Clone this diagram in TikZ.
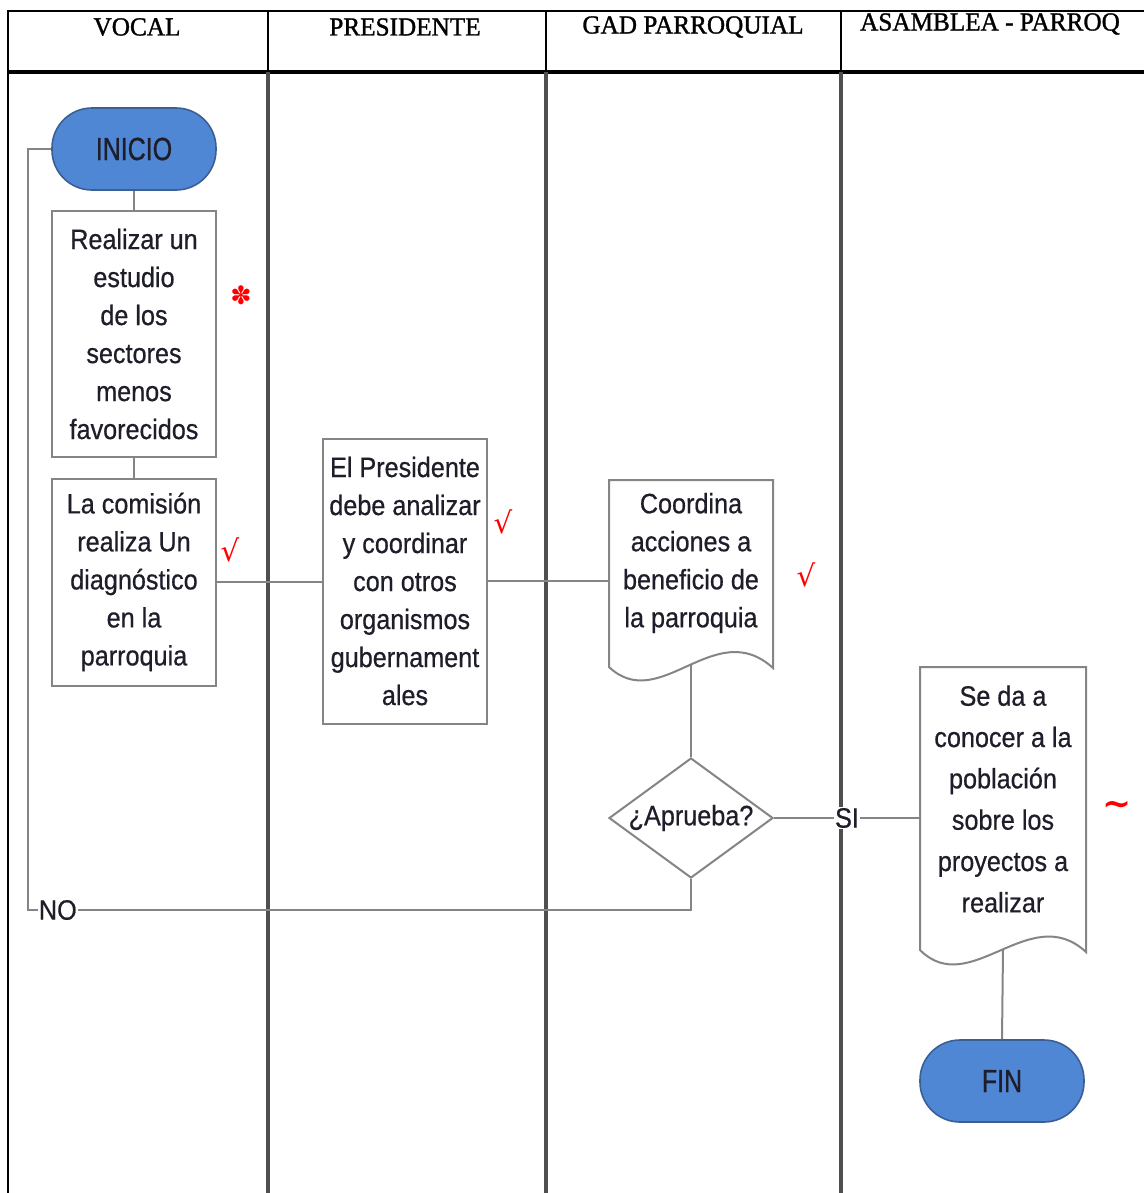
\documentclass[tikz,border=0pt]{standalone}
\usepackage{fontspec}
\setmainfont{Liberation Serif}[FakeBold=1.2, FakeStretch=0.97]
\newfontfamily\bodyfont[FakeStretch=0.9, FakeBold=0.6]{Liberation Sans}
\newfontfamily\termfont[FakeStretch=0.78, FakeBold=0.8]{Liberation Sans}
\newfontfamily\markfont{DejaVu Serif}
\newfontfamily\starfont{DejaVu Sans}
\usetikzlibrary{shapes.geometric}
\definecolor{laneline}{HTML}{4F4F4F}
\definecolor{linkgray}{HTML}{858585}
\definecolor{termblue}{HTML}{4F87D4}
\definecolor{termedge}{HTML}{3B5E93}
\definecolor{inkdark}{HTML}{1E1E2A}
\definecolor{markred}{HTML}{FF0000}

\begin{document}
\begin{tikzpicture}[x=0.75pt, y=-0.75pt,
  lanehead/.style={font=\fontsize{19.5pt}{22pt}\selectfont, text=black, inner sep=0pt},
  frame/.style={draw=black, line width=1.6pt},
  lane/.style={draw=laneline, line width=2.4pt},
  link/.style={draw=linkgray, line width=1.5pt},
  body/.style={text=inkdark, align=center, font=\bodyfont\fontsize{21pt}{28.5pt}\selectfont},
  box/.style={body, draw=linkgray, line width=1.5pt, fill=white, minimum width=123pt, inner sep=0pt},
  docshape/.style={draw=linkgray, line width=1.5pt, fill=white},
  terminal/.style={draw=termedge, line width=1.2pt, fill=termblue, rounded corners=30pt,
    minimum width=123pt, minimum height=61.5pt, inner sep=0pt, text=inkdark,
    font=\termfont\fontsize{24pt}{28pt}\selectfont},
  decision/.style={diamond, draw=linkgray, line width=1.5pt, fill=white, minimum width=123pt,
    minimum height=90pt, inner sep=0pt, text=inkdark, font=\bodyfont\fontsize{21pt}{25pt}\selectfont},
  tag/.style={fill=white, inner sep=1pt, text=inkdark, font=\bodyfont\fontsize{21pt}{25pt}\selectfont},
  redmark/.style={text=markred, inner sep=0pt, font=\markfont\fontsize{22pt}{24pt}\selectfont}
]
% page
\fill[white] (0,0) rectangle (1144,1193);
\useasboundingbox (0,0) rectangle (1144,1193);

% swimlane table
\draw[frame] (1144,11) -- (8,11) -- (8,1193);
\draw[draw=black, line width=3pt] (8,72) -- (1144,72);
\foreach \lx in {268,546,841} {
  \draw[frame] (\lx,11) -- (\lx,72);
  \draw[lane] (\lx,72) -- (\lx,1193);
}
\node[lanehead] (hvocal) at (137,27) {VOCAL};
\node[lanehead] (hpres) at (405,27) {PRESIDENTE};
\node[lanehead] (hgad) at (693,27) {GAD PARROQUIAL};
\node[lanehead] (hasam) at (990,24) {ASAMBLEA - PARROQ};

% VOCAL lane
\node[terminal] (ini) at (134,149) {INICIO};
\node[box, minimum height=184.5pt] (study) at (134,334)
  {Realizar un\\estudio\\de los\\sectores\\menos\\favorecidos};
\node[box, minimum height=155.25pt] (diag) at (134,582)
  {La comisión\\realiza Un\\diagnóstico\\en la\\parroquia};

% PRESIDENTE lane
\node[box, minimum height=213.75pt] (pres) at (405,581)
  {El Presidente\\debe analizar\\y coordinar\\con otros\\organismos\\gubernament\\ales};

% GAD PARROQUIAL lane: document outline, then its text
\draw[docshape] (609,480) -- (773,480) -- (773,668)
  .. controls (715,615) and (660,715) .. (609,667) -- cycle;
\node[body] (coord) at (691,563) {Coordina\\acciones a\\beneficio de\\la parroquia};
\coordinate (coordw) at (609,581);
\coordinate (coordb) at (691,665);
\node[decision] (dec) at (691,818) {\makebox[0pt]{¿Aprueba?}};

% ASAMBLEA lane
\draw[docshape] (920,667) -- (1086,667) -- (1086,952)
  .. controls (1030,900) and (970,1000) .. (920,950) -- cycle;
\node[body, font=\bodyfont\fontsize{21pt}{31pt}\selectfont] (publ) at (1003,799)
  {Se da a\\conocer a la\\población\\sobre los\\proyectos a\\realizar};
\coordinate (publw) at (920,818);
\coordinate (publb) at (1003,950);
\node[terminal] (fin) at (1002,1081) {FIN};

% connectors
\draw[link] (ini.south) -- (study.north);
\draw[link] (study.south) -- (diag.north);
\draw[link] (diag.east) -- (diag.east -| pres.west);
\draw[link] (pres.east) -- (pres.east -| coordw);
\draw[link] (coordb) -- (dec.north);
\draw[link] (dec.east) -- node[tag, pos=0.5] (si) {SI} (dec.east -| publw);
\draw[link] (publb) -- (fin.north);
\coordinate (nojoin) at (691,910);
\coordinate (nocorner) at (28,910);
\draw[link] (dec.south) -- (nojoin) -- node[tag, pos=0.955] (no) {NO} (nocorner) |- (ini.west);

% review marks
\node[text=markred, inner sep=0pt, font=\starfont\fontsize{19pt}{20pt}\selectfont] (mstar) at (241,295) {✽};
\node[redmark] (mchk1) at (230,550) {√};
\node[redmark] (mchk2) at (503,522) {√};
\node[redmark] (mchk3) at (806,575) {√};
\node[redmark, font=\markfont\bfseries\fontsize{26pt}{28pt}\selectfont] (mtilde) at (1117,808) {\char"007E};
\end{tikzpicture}
\end{document}
